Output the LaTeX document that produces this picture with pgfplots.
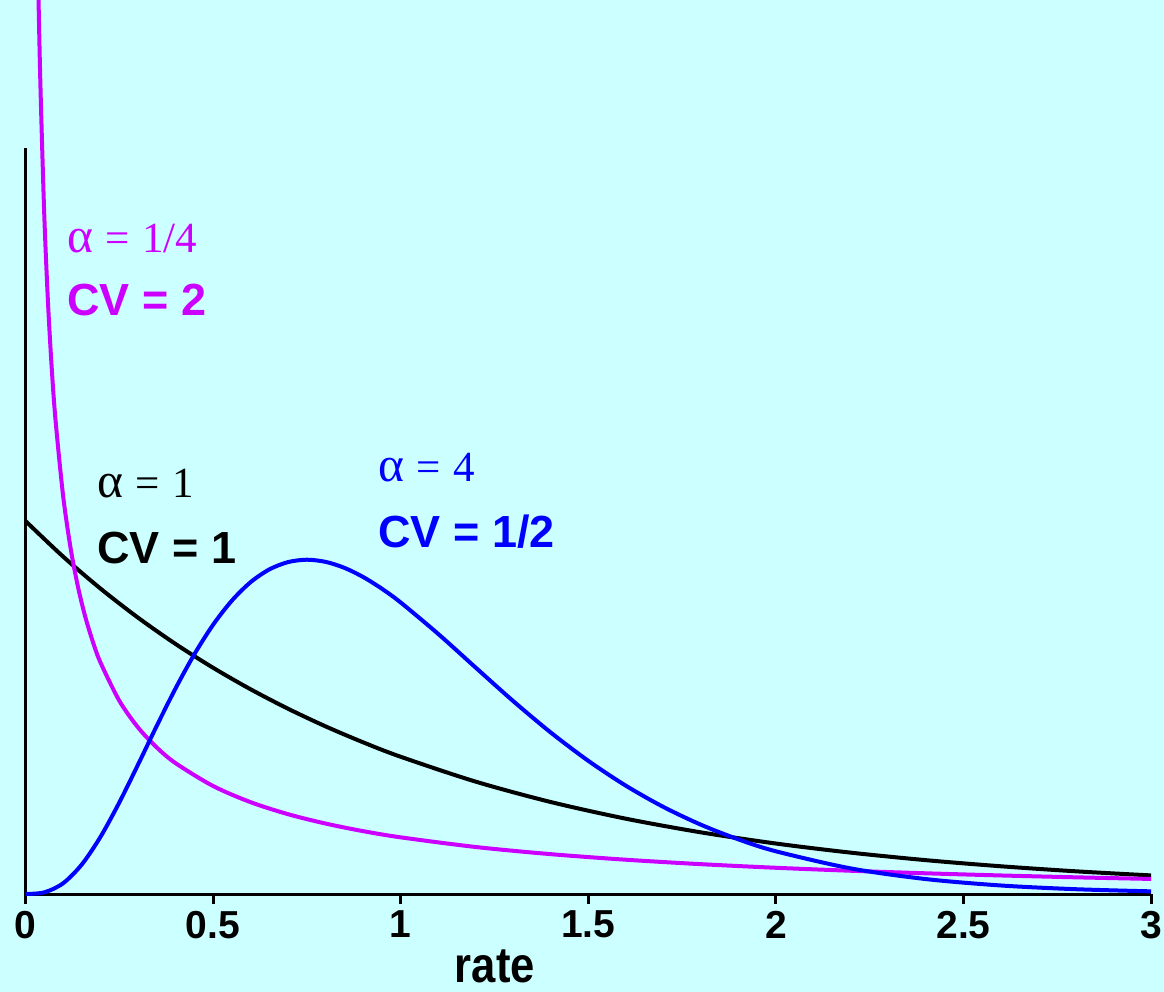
\documentclass[border=0pt]{standalone}
\usepackage{fontspec}
\setmainfont{Liberation Serif}
\setsansfont{Liberation Sans}
\usepackage{pgfplots}
\pgfplotsset{compat=1.18}
\usetikzlibrary{backgrounds}
\definecolor{bgc}{RGB}{204,255,255}
\definecolor{pur}{RGB}{204,0,255}
\definecolor{blu}{RGB}{0,0,255}
\newcommand{\al}{\scalebox{1.15}{α}}
\begin{document}
\begin{tikzpicture}
\begin{axis}[
  at={(0,0)}, anchor=south west,
  scale only axis, width=562.8pt, height=373pt,
  xmin=0, xmax=3, ymin=0, ymax=2,
  clip=false,
  axis x line=bottom, axis y line=left,
  x axis line style={-, line width=1.5pt},
  y axis line style={-, line width=1.5pt},
  xtick={0,0.5,1,1.5,2,2.5,3},
  xticklabels={0,0.5,1,1.5,2,2.5,3},
  ytick=\empty,
  tick align=outside, major tick length=5pt,
  every tick/.style={black, line width=1.5pt},
  xticklabel style={font=\sffamily\bfseries\fontsize{19.5}{22}\selectfont},
]
\addplot[black, line width=2pt, smooth] coordinates {
(0,1) (0.1,0.9048) (0.2,0.8187) (0.3,0.7408) (0.4,0.6703) (0.5,0.6065)
(0.6,0.5488) (0.7,0.4966) (0.8,0.4493) (0.9,0.4066) (1.0,0.3679)
(1.2,0.3012) (1.4,0.2466) (1.6,0.2019) (1.8,0.1653) (2.0,0.1353)
(2.2,0.1108) (2.4,0.0907) (2.6,0.0743) (2.8,0.0608) (3.0,0.0498)};
\addplot[pur, line width=2pt, smooth] coordinates {
(0.0347,2.40) (0.04,2.159) (0.05,1.8215) (0.06,1.5849) (0.07,1.4083)
(0.08,1.2709) (0.1,1.0696) (0.12,0.9284) (0.14,0.8228) (0.16,0.7407)
(0.18,0.6748) (0.2,0.6203) (0.25,0.5182) (0.3,0.4464) (0.35,0.3927)
(0.4,0.3508) (0.5,0.2895) (0.6,0.2462) (0.7,0.2139) (0.8,0.1888)
(0.9,0.1685) (1.0,0.1519) (1.2,0.1260) (1.4,0.1068) (1.6,0.0919)
(1.8,0.0800) (2.0,0.0703) (2.2,0.0623) (2.4,0.0555) (2.6,0.0497)
(2.8,0.0447) (3.0,0.0404)};
\addplot[blu, line width=2pt, smooth] coordinates {
(0,0) (0.05,0.0044) (0.1,0.0286) (0.15,0.0790) (0.2,0.1534) (0.25,0.2453)
(0.3,0.3470) (0.35,0.4511) (0.4,0.5513) (0.45,0.6427) (0.5,0.7218)
(0.55,0.7865) (0.6,0.8361) (0.65,0.8703) (0.7,0.8899) (0.75,0.8962)
(0.8,0.8904) (0.85,0.8744) (0.9,0.8498) (0.95,0.8183) (1.0,0.7815)
(1.1,0.6972) (1.2,0.6068) (1.3,0.5171) (1.4,0.4329) (1.5,0.3570)
(1.6,0.2904) (1.7,0.2335) (1.8,0.1858) (1.9,0.1465) (2.0,0.1145)
(2.2,0.0685) (2.4,0.0400) (2.6,0.0228) (2.8,0.0128) (3.0,0.0071)};
\node[anchor=base west, inner sep=0pt, text=pur, font=\fontsize{21.5}{24}\selectfont] at (axis cs:0.1106,1.721) {\al\hspace{0.28em}=\hspace{0.3em}1/4};
\node[anchor=base west, inner sep=0pt, text=pur, font=\sffamily\bfseries\fontsize{22.5}{26}\selectfont] at (axis cs:0.1106,1.550) {CV = 2};
\node[anchor=base west, inner sep=0pt, text=black, font=\fontsize{21.5}{24}\selectfont] at (axis cs:0.1908,1.062) {\al\hspace{0.28em}=\hspace{0.3em}1};
\node[anchor=base west, inner sep=0pt, text=black, font=\sffamily\bfseries\fontsize{22.5}{26}\selectfont] at (axis cs:0.1908,0.887) {CV = 1};
\node[anchor=base west, inner sep=0pt, text=blu, font=\fontsize{21.5}{24}\selectfont] at (axis cs:0.9397,1.105) {\al\hspace{0.28em}=\hspace{0.3em}4};
\node[anchor=base west, inner sep=0pt, text=blu, font=\sffamily\bfseries\fontsize{22.5}{26}\selectfont] at (axis cs:0.9397,0.928) {CV = 1/2};
\node[anchor=base, inner sep=0pt, yshift=-44pt, font=\sffamily\bfseries\fontsize{21.8}{24}\selectfont] at (axis cs:1.251,0) {\scalebox{1}[1.15]{rate}};
\end{axis}
\pgfresetboundingbox
\begin{pgfonlayer}{background}
\fill[bgc] (-12.75pt,-49pt) rectangle (569.25pt,447pt);
\end{pgfonlayer}
\useasboundingbox (-12.75pt,-49pt) rectangle (569.25pt,447pt);
\end{tikzpicture}
\end{document}
